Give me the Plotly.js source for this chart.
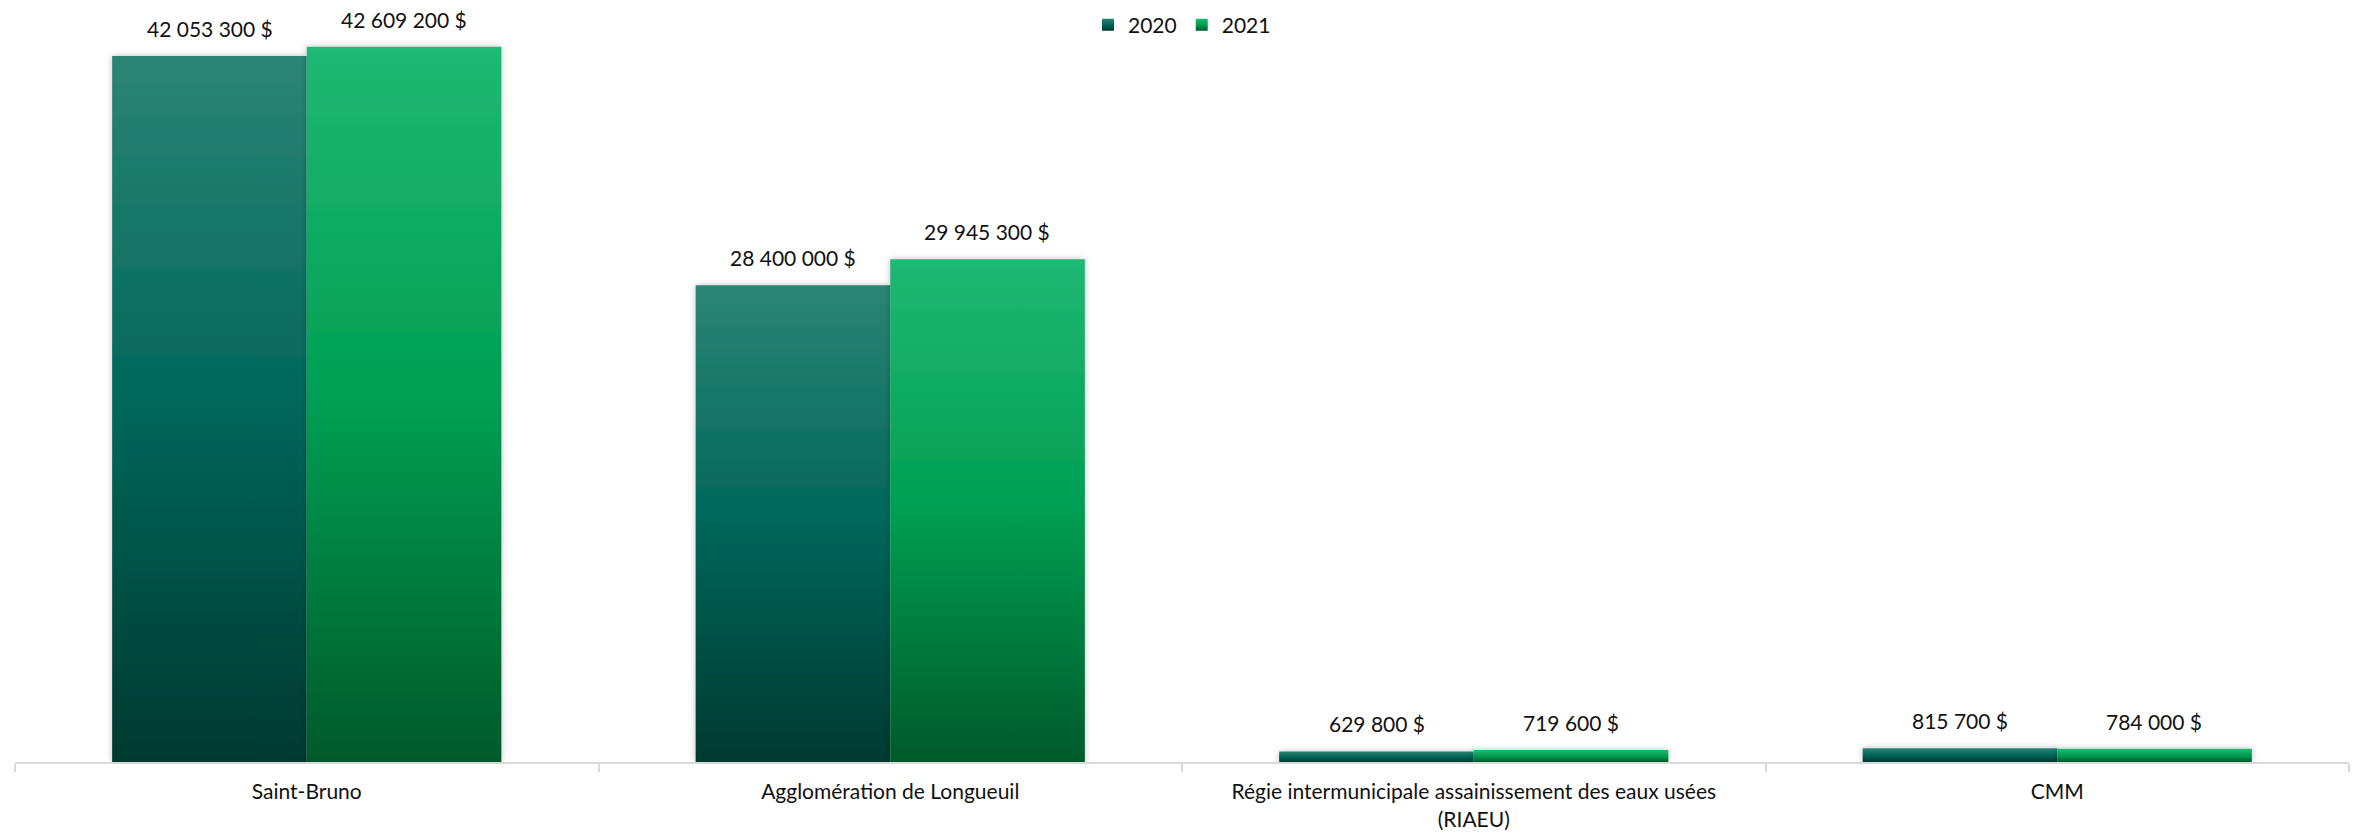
<!DOCTYPE html>
<html>
<head>
<meta charset="utf-8">
<script src="https://cdn.plot.ly/plotly-3.0.1.min.js"></script>
<style>
  html, body { margin: 0; padding: 0; background: #fff; }
  #chart { width: 2362px; height: 835px; }
</style>
</head>
<body>
<div id="chart"></div>
<script>
const categories = [
  "Saint-Bruno",
  "Agglomération de Longueuil",
  "Régie intermunicipale assainissement des eaux usées<br>(RIAEU)",
  "CMM"
];
const seriesNames = ["2020", "2021"];
const values2020 = [42053300, 28400000, 629800, 815700];
const values2021 = [42609200, 29945300, 719600, 784000];

const FONT = "Lato, 'Open Sans', sans-serif";
const baseColors = ["#00665A", "#009E52"];
const gradients = [
  ["#2C8575", "#00665A", "#00392F"],
  ["#20B874", "#009E52", "#00592B"]
];

function fmt(v) {
  return String(Math.round(v)).replace(/\B(?=(\d{3})+(?!\d))/g, " ") + " $";
}

const allSeries = [values2020, values2021];
const traces = allSeries.map((vals, s) => ({
  type: "bar",
  name: seriesNames[s],
  x: categories,
  y: vals,
  marker: { color: baseColors[s], line: { width: 0 } },
  hoverinfo: "skip"
}));

const annotations = [];
allSeries.forEach((vals, s) => {
  vals.forEach((v, i) => {
    annotations.push({
      x: categories[i], y: v, xref: "x", yref: "y",
      text: fmt(v), showarrow: false,
      xshift: s === 0 ? -97 : 97,
      yanchor: "bottom", yshift: 13,
      font: { family: FONT, size: 21, color: "#111" }
    });
  });
});

const layout = {
  width: 2362, height: 835,
  margin: { l: 15, r: 13, t: 5, b: 73 },
  paper_bgcolor: "#fff", plot_bgcolor: "#fff",
  barmode: "group", bargap: 0.333, bargroupgap: 0,
  showlegend: true,
  legend: {
    orientation: "h", x: 0.5, xanchor: "center", y: 0.98, yanchor: "middle",
    font: { family: FONT, size: 21, color: "#111" },
    bgcolor: "rgba(0,0,0,0)"
  },
  xaxis: {
    type: "category", range: [-0.5, 3.5],
    showline: true, linecolor: "#d9d9d9", linewidth: 2,
    ticks: "outside", tickson: "boundaries", ticklen: 8, tickcolor: "#d9d9d9", tickwidth: 2,
    ticklabelstandoff: 10,
    showgrid: false, zeroline: false,
    tickfont: { family: FONT, size: 21, color: "#111" }
  },
  yaxis: {
    range: [0, 44800000], visible: false, showgrid: false, zeroline: false
  },
  annotations: annotations
};

function applyGradients(gd) {
  const svg = gd.querySelector(".main-svg");
  let defs = svg.querySelector("defs");
  if (!defs) { defs = document.createElementNS("http://www.w3.org/2000/svg", "defs"); svg.prepend(defs); }
  if (!svg.querySelector("#barGrad0")) {
    gradients.forEach((g, s) => {
      const lg = document.createElementNS("http://www.w3.org/2000/svg", "linearGradient");
      lg.setAttribute("id", "barGrad" + s);
      lg.setAttribute("x1", "0"); lg.setAttribute("y1", "0");
      lg.setAttribute("x2", "0"); lg.setAttribute("y2", "1");
      [0, 0.5, 1].forEach((off, k) => {
        const st = document.createElementNS("http://www.w3.org/2000/svg", "stop");
        st.setAttribute("offset", off);
        st.setAttribute("stop-color", g[k]);
        lg.appendChild(st);
      });
      defs.appendChild(lg);
    });
    const f = document.createElementNS("http://www.w3.org/2000/svg", "filter");
    f.setAttribute("id", "barShadow");
    f.setAttribute("x", "-10%"); f.setAttribute("y", "-10%");
    f.setAttribute("width", "120%"); f.setAttribute("height", "120%");
    const ds = document.createElementNS("http://www.w3.org/2000/svg", "feDropShadow");
    ds.setAttribute("dx", "0"); ds.setAttribute("dy", "0");
    ds.setAttribute("stdDeviation", "3");
    ds.setAttribute("flood-color", "#000");
    ds.setAttribute("flood-opacity", "0.25");
    f.appendChild(ds);
    defs.appendChild(f);
  }
  gd.querySelectorAll(".barlayer .trace").forEach((tr, s) => {
    tr.style.filter = "url(#barShadow)";
    tr.querySelectorAll(".point path").forEach(p => p.style.setProperty("fill", "url(#barGrad" + s + ")"));
  });
  gd.querySelectorAll(".legend .traces").forEach((tr, s) => {
    tr.querySelectorAll(".legendpoints path").forEach(p => p.style.setProperty("fill", "url(#barGrad" + s + ")"));
  });
}

const gd = document.getElementById("chart");
Plotly.newPlot(gd, traces, layout, { displayModeBar: false, staticPlot: true }).then(() => {
  applyGradients(gd);
  gd.on && gd.on("plotly_afterplot", () => applyGradients(gd));
});
</script>
</body>
</html>
